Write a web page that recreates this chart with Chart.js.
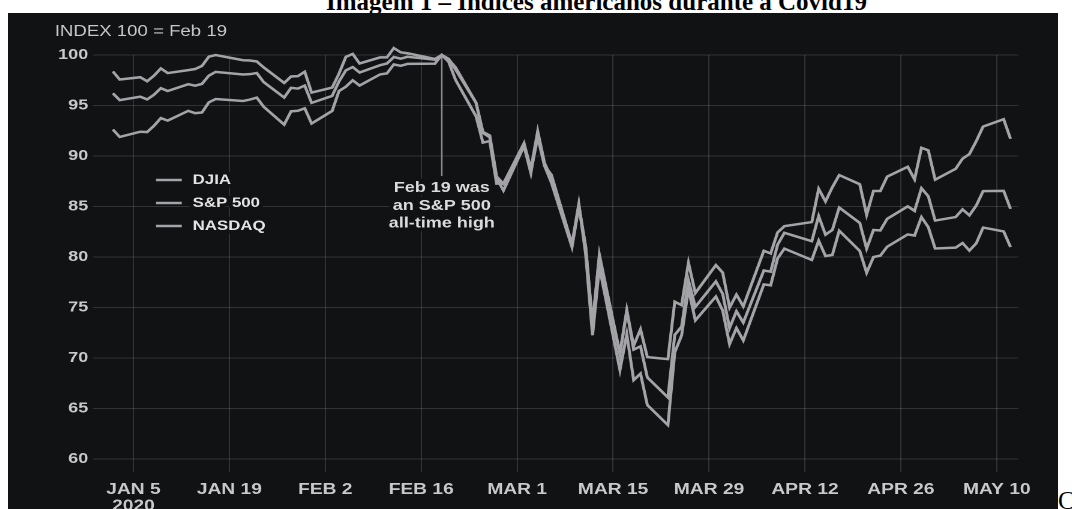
<!DOCTYPE html>
<html>
<head>
<meta charset="utf-8">
<title>Índices americanos durante a Covid19</title>
<script src="https://cdn.jsdelivr.net/npm/chart.js@4.4.1/dist/chart.umd.min.js"></script>
<style>
  html, body { margin: 0; padding: 0; width: 1072px; height: 509px; overflow: hidden; background: #fff; }
  #title { position: absolute; left: 326px; top: -11px; font: bold 25px/25px "Liberation Serif", serif; color: #000; white-space: nowrap; }
  #panel { position: absolute; left: 8px; top: 13px; width: 1050px; height: 496px; background: #111214; overflow: hidden; }
  #chart { position: absolute; left: 0; top: 0; transform: scaleX(1.2); transform-origin: 0 0; }
  #tail { position: absolute; left: 1058px; top: 488px; font: 25px/25px "Liberation Serif", serif; color: #000; }
</style>
</head>
<body>
<div id="title">Imagem 1 – Índices americanos durante a Covid19</div>
<div id="panel"><canvas id="chart" width="875" height="496"></canvas></div>
<div id="tail">C</div>
<script>
"use strict";

// trading days 2020 (MM-DD)
var tradeDates = [
  '01-02','01-03','01-06','01-07','01-08','01-09','01-10','01-13','01-14','01-15','01-16','01-17','01-21','01-22','01-23','01-24','01-27','01-28','01-29','01-30','01-31',
  '02-03','02-04','02-05','02-06','02-07','02-10','02-11','02-12','02-13','02-14','02-18','02-19','02-20','02-21','02-24','02-25','02-26','02-27','02-28',
  '03-02','03-03','03-04','03-05','03-06','03-09','03-10','03-11','03-12','03-13','03-16','03-17','03-18','03-19','03-20','03-23','03-24','03-25','03-26','03-27','03-30','03-31',
  '04-01','04-02','04-03','04-06','04-07','04-08','04-09','04-13','04-14','04-15','04-16','04-17','04-20','04-21','04-22','04-23','04-24','04-27','04-28','04-29','04-30',
  '05-01','05-04','05-05','05-06','05-07','05-08','05-11','05-12'
];

// index, 100 = Feb 19
var djia = [
  98.37,97.57,97.80,97.40,97.95,98.67,98.21,98.50,98.61,98.92,99.83,100.00,99.48,99.45,99.36,98.78,97.23,97.87,97.91,98.34,96.28,
  96.77,98.16,99.81,100.11,99.16,99.76,99.76,100.69,100.26,100.17,99.61,100.00,99.56,98.79,95.27,92.28,91.85,87.80,86.58,
  90.99,88.31,92.31,89.01,88.13,81.27,85.25,80.25,72.24,79.00,68.79,72.36,67.80,68.44,65.33,63.35,70.55,72.24,76.84,73.72,76.08,74.68,
  71.36,72.96,71.73,77.28,77.19,79.85,80.82,79.70,81.61,80.09,80.20,82.60,80.59,78.43,79.99,80.13,81.01,82.23,82.12,83.94,82.95,
  80.84,80.92,81.38,80.63,81.35,82.91,82.53,80.98
];
var sp500 = [
  96.21,95.53,95.87,95.60,96.07,96.71,96.43,97.11,96.96,97.14,97.95,98.33,98.07,98.10,98.21,97.32,95.79,96.75,96.67,96.97,95.26,
  95.95,97.38,98.48,98.81,98.27,98.99,99.16,99.80,99.64,99.82,99.53,100.00,99.62,98.57,95.27,92.38,92.03,87.97,87.24,
  91.26,88.70,92.44,89.30,87.78,81.11,85.12,80.96,73.26,80.06,70.47,74.69,70.82,71.15,68.07,66.08,72.27,73.11,77.67,75.05,77.57,76.33,
  72.96,74.62,73.50,78.66,78.54,81.21,82.39,81.56,84.05,82.20,82.68,84.89,83.37,80.82,82.67,82.62,83.77,85.01,84.56,86.81,86.01,
  83.60,83.95,84.71,84.12,85.09,86.52,86.54,84.76
];
var nasdaq = [
  92.62,91.89,92.40,92.37,92.99,93.75,93.50,94.47,94.24,94.31,95.31,95.64,95.45,95.59,95.78,94.88,93.10,94.42,94.48,94.72,93.21,
  94.46,96.44,96.86,97.50,96.98,98.08,98.18,99.07,98.93,99.12,99.14,100.00,99.33,97.55,93.93,91.33,91.48,87.26,87.27,
  91.19,88.46,91.86,89.01,87.35,80.99,85.00,81.00,73.36,80.22,70.33,74.71,71.20,72.84,70.08,69.88,75.56,75.22,79.43,76.42,79.19,78.44,
  74.98,76.27,75.10,80.61,80.34,82.42,83.05,83.45,86.74,85.50,86.91,88.11,87.20,84.17,86.53,86.53,87.95,88.93,87.68,90.81,90.55,
  87.65,88.73,89.73,90.19,91.47,92.91,93.64,91.70
];
var seriesNames = ['DJIA', 'S&P 500', 'NASDAQ'];

var tickDates = ['01-05','01-19','02-02','02-16','03-01','03-15','03-29','04-12','04-26','05-10'];
var tickLabels = ['JAN 5','JAN 19','FEB 2','FEB 16','MAR 1','MAR 15','MAR 29','APR 12','APR 26','MAY 10'];
var firstTickYear = '2020';
var yTicks = [60, 65, 70, 75, 80, 85, 90, 95, 100];

var indexNote = 'INDEX 100 = Feb 19';
var noteDate = '02-19';
var noteLines = ['Feb 19 was', 'an S&P 500', 'all-time high'];

var BG = '#111214';
var LINE = '#a3a3a8';
var GRID = 'rgba(255,255,255,0.14)';
var FONT = '"Liberation Sans", Arial, sans-serif';

function dayOfYear(md) {
    var p = md.split('-');
    return (Date.UTC(2020, +p[0] - 1, +p[1]) - Date.UTC(2020, 0, 0)) / 86400000;
}

var tradeDays = tradeDates.map(dayOfYear);
var tickDays = tickDates.map(dayOfYear);

function toPoints(values) {
    return values.map(function (v, i) { return { x: tradeDays[i], y: v }; });
}

// text with a dark halo so the grid does not run through it
function haloText(ctx, text, x, y) {
    ctx.strokeText(text, x, y);
    ctx.fillText(text, x, y);
}

var overlayPlugin = {
    id: 'overlay',
    beforeDatasetsDraw: function (chart) {
        var ctx = chart.ctx;
        var area = chart.chartArea;
        var xs = chart.scales.x, ys = chart.scales.y;
        ctx.save();

        ctx.font = '15.5px ' + FONT;
        ctx.fillStyle = '#c9c9c9';
        ctx.textAlign = 'left';
        ctx.textBaseline = 'middle';
        ctx.fillText(indexNote, 39, 18.5);

        ctx.strokeStyle = BG;
        ctx.lineWidth = 7;
        ctx.lineJoin = 'round';

        // Feb 19 marker
        var ax = xs.getPixelForValue(dayOfYear(noteDate));
        var top = ys.getPixelForValue(100);
        var bottom = top + 121;
        ctx.beginPath();
        ctx.moveTo(ax, top);
        ctx.lineTo(ax, bottom);
        ctx.save();
        ctx.strokeStyle = '#8d8d90';
        ctx.lineWidth = 1.3;
        ctx.stroke();
        ctx.restore();

        ctx.font = 'bold 15px ' + FONT;
        ctx.fillStyle = '#dcdcdc';
        ctx.textAlign = 'center';
        noteLines.forEach(function (t, i) {
            haloText(ctx, t, ax, bottom + 12 + i * 17.8);
        });

        // legend
        var lx = area.left + 52.5;
        var ly = area.top + 125;
        ctx.font = 'bold 14px ' + FONT;
        ctx.textAlign = 'left';
        chart.data.datasets.forEach(function (ds, i) {
            var yy = ly + i * 23;
            ctx.save();
            ctx.strokeStyle = LINE;
            ctx.lineWidth = 2.5;
            ctx.beginPath();
            ctx.moveTo(lx, yy);
            ctx.lineTo(lx + 21.5, yy);
            ctx.stroke();
            ctx.restore();
            ctx.fillStyle = '#e4e4e4';
            haloText(ctx, ds.label, lx + 30.6, yy);
        });

        ctx.restore();
    }
};

var ctx = document.getElementById('chart').getContext('2d');
var myChart = new Chart(ctx, {
    type: 'line',
    data: {
        datasets: [djia, sp500, nasdaq].map(function (vals, i) {
            return {
                label: seriesNames[i],
                data: toPoints(vals),
                borderColor: LINE,
                borderWidth: 2.5,
                pointRadius: 0,
                tension: 0,
                clip: false
            };
        })
    },
    options: {
        responsive: false,
        animation: false,
        devicePixelRatio: 2,
        layout: { padding: { left: 0, right: 33.3, top: 42, bottom: 0 } },
        plugins: {
            legend: { display: false },
            title: { display: false },
            tooltip: { enabled: false }
        },
        scales: {
            x: {
                type: 'linear',
                min: -0.9,
                max: 134.1,
                afterBuildTicks: function (scale) {
                    scale.ticks = tickDays.map(function (d) { return { value: d }; });
                },
                afterFit: function (scale) { scale.height = 37; },
                grid: { color: GRID, lineWidth: 1, drawTicks: false },
                border: { display: false },
                ticks: {
                    autoSkip: false,
                    maxRotation: 0,
                    padding: 9,
                    color: '#c9c9c9',
                    font: { family: FONT, size: 16, weight: 'bold', lineHeight: 1.05 },
                    callback: function (value) {
                        var i = tickDays.indexOf(value);
                        if (i === 0) return [tickLabels[0], firstTickYear];
                        return i >= 0 ? tickLabels[i] : '';
                    }
                }
            },
            y: {
                min: 58.7,
                max: 100,
                afterBuildTicks: function (scale) {
                    scale.ticks = yTicks.map(function (v) { return { value: v }; });
                },
                afterFit: function (scale) { scale.width = 70.83; },
                grid: { color: GRID, lineWidth: 1, drawTicks: false },
                border: { display: false },
                ticks: {
                    padding: 4,
                    color: '#c9c9c9',
                    font: { family: FONT, size: 15, weight: 'bold' }
                }
            }
        }
    },
    plugins: [overlayPlugin]
});
</script>
</body>
</html>
